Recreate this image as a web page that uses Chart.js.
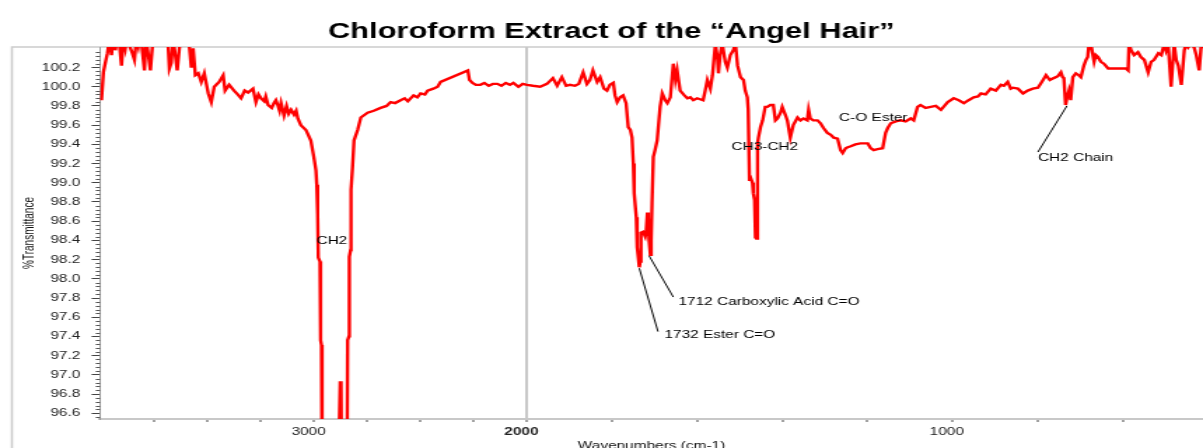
<!DOCTYPE html>
<html>
<head>
<meta charset="utf-8">
<title>Chloroform Extract of the “Angel Hair”</title>
<script src="https://cdn.jsdelivr.net/npm/chart.js@4.4.1/dist/chart.umd.min.js"></script>
<style>
  html, body { margin: 0; padding: 0; background: #fff; overflow: hidden; }
</style>
</head>
<body>
<!-- the original plot is stretched sideways, so the canvas is drawn narrow and widened by css -->
<canvas id="irChart" width="859" height="448" style="width:1203px;height:448px;display:block"></canvas>
<script>
// spectrum (wavenumber cm-1 / %T)
const wavenumbers = [
  4000, 3991, 3981, 3972, 3963, 3953, 3944, 3935, 3925, 3916, 3906, 3897, 3888, 3878, 3869,
  3855, 3845, 3836, 3827, 3817, 3798, 3791, 3784, 3770, 3756, 3719, 3690, 3681, 3672, 3663,
  3644, 3634, 3620, 3600, 3588, 3578, 3569, 3559, 3545, 3531, 3517, 3498, 3484, 3470, 3447,
  3428, 3419, 3400, 3377, 3360, 3344, 3327, 3311, 3288, 3274, 3262, 3250, 3235, 3228, 3217, 3200, 3189, 3180, 3170, 3163,
  3156, 3142, 3130, 3120, 3109, 3095, 3085, 3077, 3063, 3039, 3016, 3002, 2992, 2988, 2984, 2981, 2973, 2970, 2966,
  2963, 2890, 2878, 2874, 2870, 2846, 2843, 2837, 2835, 2829, 2827, 2820, 2813, 2796, 2781,
  2749, 2720, 2688, 2660, 2641, 2620, 2594, 2575, 2560, 2533, 2515, 2500, 2480, 2467, 2440,
  2420, 2406, 2278, 2270, 2256, 2240, 2219, 2200, 2180, 2160, 2139, 2120, 2100, 2080, 2064,
  2040, 2020, 2000,
  1986, 1969, 1953, 1939, 1929, 1918, 1908, 1899, 1887, 1878, 1868, 1859, 1852, 1845, 1835,
  1828, 1819, 1812, 1805, 1797, 1793, 1788, 1781, 1774, 1767, 1762, 1757, 1753, 1750, 1748,
  1743, 1741, 1739, 1736, 1734, 1732, 1727, 1722, 1720, 1717, 1715, 1713, 1710, 1708, 1706,
  1703, 1699, 1694, 1687, 1682, 1675, 1670, 1663, 1656, 1651, 1647, 1640, 1630, 1623, 1616,
  1609, 1600, 1593, 1586, 1581, 1576, 1569, 1564, 1557, 1552, 1550, 1546, 1541, 1534, 1529,
  1522, 1515, 1510, 1505, 1498, 1491, 1487, 1482, 1480, 1477, 1475, 1470, 1468, 1465, 1463,
  1461, 1458, 1456, 1451, 1446, 1440, 1435, 1428, 1421, 1416, 1411, 1404, 1400, 1392, 1388,
  1381, 1374, 1364, 1357, 1350, 1341, 1338, 1334, 1327, 1317, 1310, 1303, 1294, 1286, 1279,
  1270, 1263, 1258, 1251, 1246, 1239, 1228, 1216, 1199, 1192, 1185, 1176, 1164, 1157, 1152,
  1145, 1133, 1122, 1110, 1098, 1091, 1082, 1075, 1063, 1051, 1039, 1027, 1011, 997, 985,
  973, 962, 950, 940, 933, 922, 910, 898, 886, 879, 870, 863, 858, 846, 834,
  823, 811, 799, 790, 780, 771, 762, 752, 745, 741, 738, 734, 731, 726, 722,
  717, 710, 703, 698, 691, 686, 682, 679, 674, 667, 663, 658, 651, 644, 634,
  627, 620, 604, 592, 587, 585, 580, 573, 564, 557, 549, 540, 533, 526, 516,
  509, 502, 498, 493, 486, 479, 474, 469, 462, 455, 451, 446, 439, 432, 427,
  420, 415, 411,
];
const transmittance = [
  99.86, 100.15, 100.26, 100.35, 100.50, 100.33, 100.55, 100.38, 100.52, 100.45, 100.22, 100.50, 100.40, 100.55, 100.43,
  100.35, 100.28, 100.50, 100.42, 100.56, 100.17, 100.50, 100.40, 100.17, 100.55, 100.60, 100.58, 100.19, 100.25, 100.50,
  100.17, 100.40, 100.60, 100.62, 100.45, 100.20, 100.40, 100.12, 100.14, 100.05, 100.14, 99.93, 99.84, 100.00, 100.05,
  100.12, 99.96, 100.02, 99.96, 99.92, 99.88, 99.96, 99.94, 99.98, 99.84, 99.92, 99.88, 99.85, 99.90, 99.81, 99.78, 99.83, 99.86, 99.80, 99.75,
  99.83, 99.70, 99.80, 99.72, 99.76, 99.71, 99.75, 99.67, 99.60, 99.55, 99.44, 99.27, 99.13, 98.98, 98.68, 98.22, 98.18, 97.36, 97.31,
  95.80, 95.60, 96.92, 96.92, 95.60, 95.80, 97.36, 97.40, 98.23, 98.30, 98.93, 99.16, 99.44, 99.55, 99.68,
  99.73, 99.75, 99.78, 99.80, 99.84, 99.83, 99.86, 99.88, 99.85, 99.91, 99.89, 99.93, 99.92, 99.96, 99.98,
  100.00, 100.05, 100.17, 100.07, 100.04, 100.02, 100.02, 100.04, 100.01, 100.03, 100.03, 100.01, 100.04, 100.02, 100.04,
  100.00, 100.03, 100.02,
  100.01, 100.00, 100.03, 100.09, 100.01, 100.10, 100.01, 100.02, 100.01, 100.03, 100.15, 100.03, 100.07, 100.17, 100.05,
  100.10, 99.98, 99.96, 100.02, 100.04, 99.91, 99.84, 99.89, 99.91, 99.83, 99.58, 99.55, 99.47, 99.20, 98.89,
  98.64, 98.33, 98.25, 98.12, 98.18, 98.48, 98.49, 98.44, 98.48, 98.69, 98.64, 98.40, 98.25, 98.40, 98.79,
  99.27, 99.34, 99.44, 99.79, 99.93, 99.86, 99.83, 99.89, 100.24, 100.07, 100.17, 99.96, 99.91, 99.88, 99.89,
  99.86, 99.88, 99.87, 99.86, 99.96, 100.07, 99.98, 100.12, 100.45, 100.28, 100.14, 100.33, 100.45, 100.26, 100.20,
  100.33, 100.38, 100.45, 100.22, 100.10, 100.07, 99.96, 99.89, 99.76, 99.03, 99.06, 99.00, 98.89, 98.82, 98.43,
  98.42, 99.41, 99.47, 99.58, 99.65, 99.79, 99.79, 99.81, 99.81, 99.65, 99.67, 99.73, 99.79, 99.70, 99.65,
  99.47, 99.60, 99.68, 99.65, 99.67, 99.65, 99.76, 99.67, 99.65, 99.65, 99.62, 99.57, 99.52, 99.50, 99.47,
  99.46, 99.34, 99.31, 99.36, 99.37, 99.38, 99.40, 99.41, 99.41, 99.36, 99.34, 99.35, 99.36, 99.52, 99.57,
  99.62, 99.64, 99.65, 99.64, 99.67, 99.65, 99.79, 99.81, 99.78, 99.79, 99.80, 99.76, 99.84, 99.88, 99.86,
  99.83, 99.86, 99.89, 99.90, 99.93, 99.92, 99.98, 99.96, 100.02, 100.01, 100.05, 99.98, 99.99, 99.98, 99.93,
  99.96, 99.98, 99.99, 100.05, 100.12, 100.07, 100.09, 100.11, 100.15, 100.10, 100.09, 99.81, 99.88, 99.96, 99.86,
  100.10, 100.14, 100.12, 100.10, 100.22, 100.28, 100.31, 100.45, 100.43, 100.26, 100.33, 100.31, 100.26, 100.24, 100.19,
  100.19, 100.19, 100.19, 100.19, 100.17, 100.45, 100.38, 100.33, 100.36, 100.31, 100.28, 100.15, 100.26, 100.28, 100.35,
  100.33, 100.45, 100.38, 100.45, 100.00, 100.45, 100.28, 100.22, 100.02, 100.38, 100.45, 100.41, 100.45, 100.41, 100.33,
  100.17, 100.45, 100.40,
];

// axis ticks
const yTickValues = [96.6, 96.8, 97.0, 97.2, 97.4, 97.6, 97.8, 98.0, 98.2, 98.4, 98.6, 98.8, 99.0, 99.2, 99.4, 99.6, 99.8, 100.0, 100.2];
const xTickValues = [3750, 3500, 3250, 3000, 2750, 2500, 2250, 2000, 1800, 1600, 1400, 1200, 1000, 800, 600];

// peak labels
const noteTexts = ["CH2", "CH3-CH2", "C-O Ester", "CH2 Chain", "1712 Carboxylic Acid C=O", "1732 Ester C=O"];
const noteWavenumbers = [2917, 1441, 1186, 799, 1644, 1677];
const noteValues = [98.39, 99.37, 99.67, 99.26, 97.76, 97.41];
// leader lines: peak -> label
const leaderFromWn = [731, 1713, 1736];
const leaderFromT = [99.80, 98.24, 98.11];
const leaderToWn = [799, 1656, 1692];
const leaderToT = [99.32, 97.81, 97.45];

const FONT = '"Liberation Sans", Arial, sans-serif';
const WN_MAX = 4007;
const WN_MIN = 411;

// the spectrum is expanded 2x below 2000 cm-1
function toU(w) {
  return w >= 2000 ? WN_MAX - w : (WN_MAX - 2000) + 2 * (2000 - w);
}
function fromU(u) {
  const split = WN_MAX - 2000;
  return u <= split ? WN_MAX - u : 2000 - (u - split) / 2;
}
function isTwoThousand(c) {
  return c.tick && Math.round(fromU(c.tick.value)) === 2000;
}

// grey frame around the plot
const framePlugin = {
  id: "frame",
  beforeDraw(chart) {
    const { ctx, chartArea } = chart;
    ctx.save();
    ctx.strokeStyle = "#cccccc";
    ctx.lineWidth = 1.5;
    ctx.beginPath();
    ctx.moveTo(chart.width, chartArea.top);
    ctx.lineTo(8.5, chartArea.top);
    ctx.lineTo(8.5, chart.height);
    ctx.stroke();
    ctx.restore();
  },
};

// small ticks between the labelled ones
const minorTickPlugin = {
  id: "minorTicks",
  afterDraw(chart) {
    const { ctx, chartArea } = chart;
    const yScale = chart.scales.y;
    ctx.save();
    ctx.strokeStyle = "#555";
    ctx.lineWidth = 1;
    ctx.beginPath();
    for (let i = 0; ; i++) {
      const v = 96.56 + i * 0.04;
      if (v > yScale.max) break;
      if (i % 5 === 1) continue;
      const py = Math.round(yScale.getPixelForValue(v)) + 0.5;
      ctx.moveTo(chartArea.left - 3, py);
      ctx.lineTo(chartArea.left, py);
    }
    ctx.stroke();
    ctx.restore();
  },
};

// peak names and leader lines
const notePlugin = {
  id: "notes",
  afterDatasetsDraw(chart) {
    const { ctx } = chart;
    const xs = chart.scales.x;
    const ys = chart.scales.y;
    ctx.save();
    ctx.strokeStyle = "#000";
    ctx.lineWidth = 1;
    ctx.beginPath();
    leaderFromWn.forEach((w, i) => {
      ctx.moveTo(xs.getPixelForValue(toU(w)), ys.getPixelForValue(leaderFromT[i]));
      ctx.lineTo(xs.getPixelForValue(toU(leaderToWn[i])), ys.getPixelForValue(leaderToT[i]));
    });
    ctx.stroke();
    ctx.fillStyle = "#000";
    ctx.font = "11px " + FONT;
    ctx.textBaseline = "middle";
    noteTexts.forEach((text, i) => {
      ctx.textAlign = i < 3 ? "center" : "left";
      ctx.fillText(text, xs.getPixelForValue(toU(noteWavenumbers[i])), ys.getPixelForValue(noteValues[i]));
    });
    ctx.restore();
  },
};

const ctx = document.getElementById("irChart").getContext("2d");

new Chart(ctx, {
  type: "line",
  data: {
    datasets: [
      {
        label: "Chloroform extract",
        data: wavenumbers.map((w, i) => ({ x: toU(w), y: transmittance[i] })),
        borderColor: "#ff0000",
        borderWidth: 2.4,
        pointRadius: 0,
        tension: 0,
        fill: false,
      },
    ],
  },
  options: {
    responsive: false,
    devicePixelRatio: 1,
    animation: false,
    layout: { padding: { left: 14, right: 0, top: 0, bottom: 0 } },
    plugins: {
      legend: { display: false },
      tooltip: { enabled: false },
      title: {
        display: true,
        text: "Chloroform Extract of the “Angel Hair”",
        color: "#000",
        font: { family: FONT, size: 22, weight: "bold" },
        padding: { top: 19, bottom: 1.6 },
      },
    },
    scales: {
      x: {
        type: "linear",
        min: 0,
        max: toU(WN_MIN),
        afterBuildTicks: (scale) => {
          scale.ticks = xTickValues.map((w) => ({ value: toU(w) }));
        },
        afterFit: (scale) => {
          scale.height = 29;
        },
        ticks: {
          autoSkip: false,
          maxRotation: 0,
          labelOffset: -4,
          padding: 3,
          color: "#222",
          font: (c) => ({ family: FONT, size: 11, weight: isTwoThousand(c) ? "bold" : "normal" }),
          callback: (value) => {
            const w = Math.round(fromU(value));
            return w % 1000 === 0 ? String(w) : "";
          },
        },
        grid: {
          color: (c) => (isTwoThousand(c) ? "#c8c8c8" : "rgba(0,0,0,0)"),
          lineWidth: 2,
          tickLength: 3,
          tickColor: "#444",
          tickWidth: 1,
        },
        border: { color: "#c8c8c8", width: 2 },
        title: {
          display: true,
          text: "Wavenumbers (cm-1)",
          color: "#111",
          font: { family: FONT, size: 11 },
          padding: { top: 0, bottom: -4.6 },
        },
      },
      y: {
        type: "linear",
        min: 96.54,
        max: 100.414,
        afterBuildTicks: (scale) => {
          scale.ticks = yTickValues.map((v) => ({ value: v }));
        },
        afterFit: (scale) => {
          scale.width = 57.4;
        },
        ticks: {
          color: "#222",
          padding: 8,
          font: { family: FONT, size: 11 },
          callback: (value) => Number(value).toFixed(1),
        },
        grid: { drawOnChartArea: false, tickLength: 6, tickColor: "#444", tickWidth: 1 },
        border: { color: "#999", width: 1 },
        title: {
          display: true,
          text: "%Transmittance",
          color: "#111",
          font: { family: FONT, size: 10 },
          padding: { top: 1.4, bottom: 0 },
        },
      },
    },
  },
  plugins: [framePlugin, minorTickPlugin, notePlugin],
});
</script>
</body>
</html>
